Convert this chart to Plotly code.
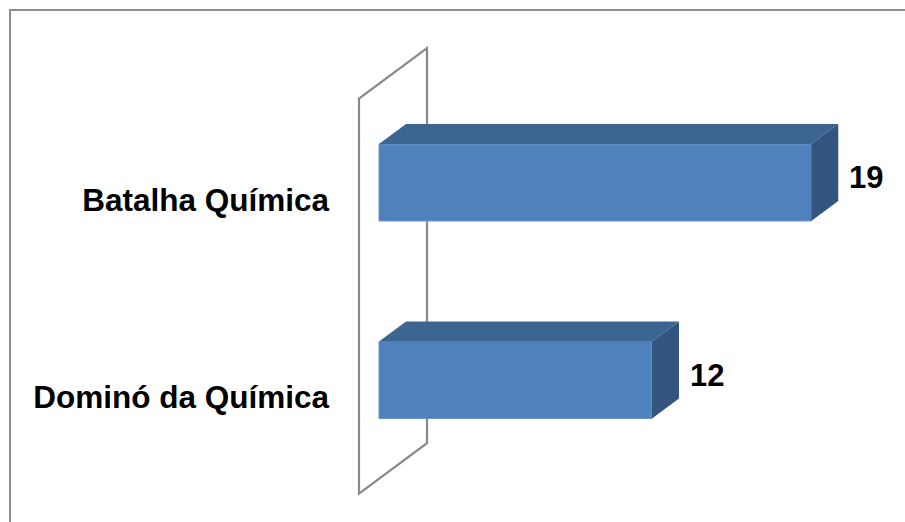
import plotly.graph_objects as go

# ---- data ----
categories = ["Dominó da Química", "Batalha Química"]
values = [12, 19]
cat_pos = [0, 1]

# ---- layout / style constants ----
W, H = 905, 522
ML = 345                      # left margin (px)
X0_PX = 379                   # pixel of value 0 (bar front face)
PPX = 22.75                   # px per value unit
Y1_PX, Y0_PX = 182.5, 380.0   # pixel centers of categories 1 and 0
PPY = Y0_PX - Y1_PX           # px per category unit

BAR_W = 77 / PPY              # bar thickness in category units
DX = 27 / PPX                 # depth offset in value units
DY = 20 / PPY                 # depth offset in category units
WALL_D0, WALL_D1 = -20 / 27, 48 / 27   # wall depth extent (in bar-depth units)

FRONT = "#4F81BD"
TOP = "#3D6591"
SIDE = "#33557F"
WALL = "#888888"
FONT = "Liberation Sans, Arial, sans-serif"

x_range = [(ML - X0_PX) / PPX, (W - X0_PX) / PPX]
y_range = [-(H - Y0_PX) / PPY, 1 + Y1_PX / PPY]

fig = go.Figure()

# front faces
fig.add_trace(go.Bar(
    x=values, y=cat_pos, orientation="h", width=BAR_W, base=0,
    marker=dict(color=FRONT, line=dict(color="#6E95C8", width=1)),
    hoverinfo="skip", showlegend=False,
))

# top and side faces computed from the data
for v, c in zip(values, cat_pos):
    t = c + BAR_W / 2
    b = c - BAR_W / 2
    fig.add_trace(go.Scatter(
        x=[0, v, v + DX, DX, 0], y=[t, t, t + DY, t + DY, t],
        fill="toself", fillcolor=TOP, mode="lines", line=dict(width=0, color=TOP),
        hoverinfo="skip", showlegend=False,
    ))
    fig.add_trace(go.Scatter(
        x=[v, v + DX, v + DX, v, v], y=[t, t + DY, b + DY, b, t],
        fill="toself", fillcolor=SIDE, mode="lines", line=dict(width=0, color=SIDE),
        hoverinfo="skip", showlegend=False,
    ))

# value labels
for v, c in zip(values, cat_pos):
    fig.add_annotation(
        x=v + DX, y=c, text=str(v), showarrow=False, xanchor="left",
        xshift=9, yshift=5,
        font=dict(family=FONT, size=31, color="black", weight="bold"),
    )

# back wall (value 0 plane)
wy0, wy1 = min(cat_pos) - 0.5, max(cat_pos) + 0.5
p = [(WALL_D0 * DX, wy0 + WALL_D0 * DY), (WALL_D0 * DX, wy1 + WALL_D0 * DY),
     (WALL_D1 * DX, wy1 + WALL_D1 * DY), (WALL_D1 * DX, wy0 + WALL_D1 * DY)]
path = "M " + " L ".join(f"{x},{y}" for x, y in p) + " Z"
fig.add_shape(type="path", path=path, xref="x", yref="y", layer="below",
              line=dict(color=WALL, width=2.2), fillcolor="rgba(0,0,0,0)")

# chart border
PW = W - ML
fig.add_shape(type="rect", xref="paper", yref="paper",
              x0=(10 - ML) / PW, x1=(W + 20 - ML) / PW,
              y0=-0.1, y1=1 - 10 / H,
              line=dict(color="#8E8E8E", width=2), layer="below")

fig.update_layout(
    width=W, height=H,
    margin=dict(l=ML, r=0, t=0, b=0, pad=0),
    paper_bgcolor="white", plot_bgcolor="white",
    xaxis=dict(range=x_range, visible=False, fixedrange=True),
    yaxis=dict(range=y_range, tickvals=cat_pos, ticktext=categories,
               showgrid=False, zeroline=False, showline=False, ticks="",
               tickfont=dict(family=FONT, size=31.5, color="black", weight="bold"),
               ticklabelshift=17, ticklabelstandoff=15, fixedrange=True),
    showlegend=False,
)

fig.write_html("out.html")
